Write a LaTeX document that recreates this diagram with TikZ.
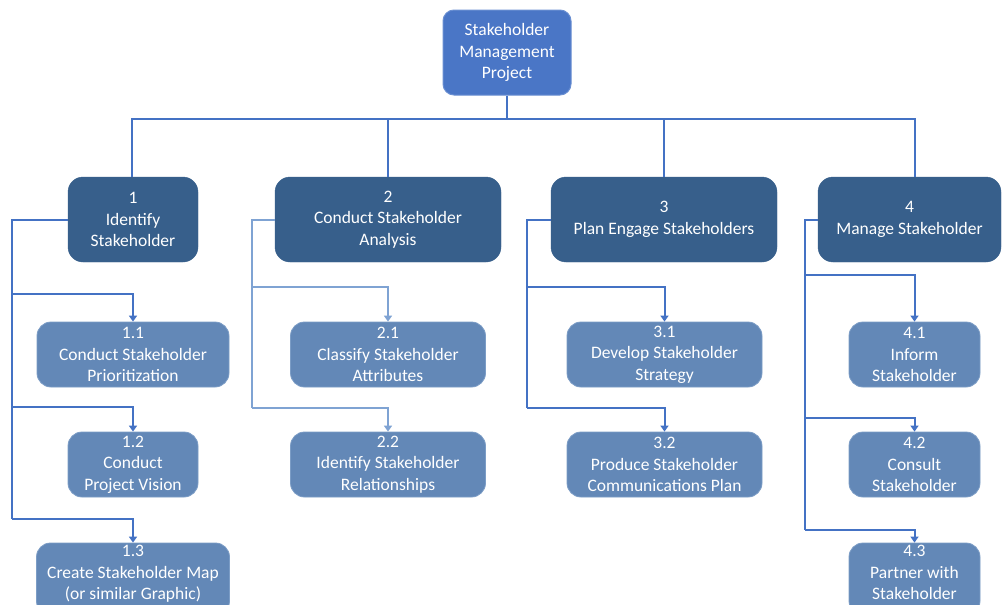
\documentclass[tikz,border=0pt]{standalone}
\usepackage{fontspec}
\setmainfont{Carlito}
\usetikzlibrary{arrows.meta,calc}

\definecolor{rootblue}{HTML}{4A76C6}
\definecolor{rootedge}{HTML}{6A8FD2}
\definecolor{mainblue}{HTML}{375F8B}
\definecolor{subblue}{HTML}{6388B7}
\definecolor{subedge}{HTML}{7C9DC6}
\definecolor{wire}{HTML}{4472C4}
\definecolor{lightwire}{HTML}{7FA3D3}

% three stacked lines, drawn a little higher than the box centre
% (for the boxes that run off the bottom edge)
\newcommand{\liftedlines}[3]{\raisebox{5pt}[\height][\depth]{\begin{tabular}{@{}c@{}}#1\\#2\\#3\end{tabular}}}

\tikzset{
  box/.style={inner sep=0pt, align=center, text=white,
    font=\fontsize{17.5}{21.5}\selectfont},
  rootbox/.style={box, fill=rootblue, draw=rootedge, line width=1pt,
    rounded corners=11pt},
  mainbox/.style={box, fill=mainblue, draw=mainblue, rounded corners=15pt},
  subbox/.style={box, fill=subblue, draw=subedge, line width=0.8pt,
    rounded corners=14pt},
  wireline/.style={draw=wire, line width=2pt},
  lightline/.style={draw=lightwire, line width=2pt},
  tip/.style={-{Triangle[width=8pt,length=6pt]}},
}

\begin{document}
\begin{tikzpicture}[x=1pt,y=-1pt]
\clip (0,0) rectangle (1002,605);
\fill[white] (0,0) rectangle (1002,605);

% root
\node[rootbox, minimum width=128pt, minimum height=85pt] (root) at (507,52.5)
  {Stakeholder\\Management\\Project};

% first level
\node[mainbox, minimum width=130pt, minimum height=85pt] (n1) at (133,219.5)
  {1\\Identify\\Stakeholder};
\node[mainbox, minimum width=226pt, minimum height=85pt] (n2) at (388,219.5)
  {2\\Conduct Stakeholder\\Analysis};
\node[mainbox, minimum width=226pt, minimum height=85pt] (n3) at (664,219.5)
  {3\\Plan Engage Stakeholders};
\node[mainbox, minimum width=183pt, minimum height=85pt] (n4) at (909.5,219.5)
  {4\\Manage Stakeholder};

% second level
\node[subbox, minimum width=192pt, minimum height=65pt] (n11) at (133,354.5)
  {1.1\\Conduct Stakeholder\\Prioritization};
\node[subbox, minimum width=130pt, minimum height=65pt] (n12) at (133,464.5)
  {1.2\\Conduct\\Project Vision};
\node[subbox, minimum width=193pt, minimum height=72pt] (n13) at (133,579)
  {\liftedlines{1.3}{Create Stakeholder Map}{(or similar Graphic)}};

\node[subbox, minimum width=195pt, minimum height=65pt] (n21) at (388,354.5)
  {2.1\\Classify Stakeholder\\Attributes};
\node[subbox, minimum width=195pt, minimum height=65pt] (n22) at (388,464.5)
  {2.2\\Identify Stakeholder\\Relationships};

\node[subbox, minimum width=195pt, minimum height=65pt] (n31) at (664.5,354.5)
  {3.1\\Develop Stakeholder\\Strategy};
\node[subbox, minimum width=195pt, minimum height=65pt] (n32) at (664.5,464.5)
  {3.2\\Produce Stakeholder\\Communications Plan};

\node[subbox, minimum width=131pt, minimum height=65pt] (n41) at (914.5,354.5)
  {4.1\\Inform\\Stakeholder};
\node[subbox, minimum width=131pt, minimum height=65pt] (n42) at (914.5,464.5)
  {4.2\\Consult\\Stakeholder};
\node[subbox, minimum width=131pt, minimum height=72pt] (n43) at (914.5,579)
  {\liftedlines{4.3}{Partner with}{Stakeholder}};

% bus under the root
\coordinate (bus) at (507,119);
\coordinate (d1) at (132,119);
\coordinate (d4) at (915,119);
\draw[wireline] (root.south) -- (bus);
\draw[wireline] (n1.north -| d1) -- (d1) -- (d4) -- (d4 |- n4.north);
\draw[wireline] (n2.north) -- (n2.north |- bus);
\draw[wireline] (n3.north) -- (n3.north |- bus);

% branch 1
\coordinate (a1) at (12,219.5);
\coordinate (j11) at (12,294);
\coordinate (j12) at (12,407);
\coordinate (j13) at (12,519);
\draw[wireline] (n1.west) -- (a1) -- (j13);
\draw[wireline,tip] (j11) -| (n11.north);
\draw[wireline,tip] (j12) -| (n12.north);
\draw[wireline,tip] (j13) -| (n13.north);

% branch 2
\coordinate (a2) at (252,219.5);
\coordinate (j21) at (252,287);
\coordinate (j22) at (252,408);
\draw[lightline] (n2.west) -- (a2) -- (j22);
\draw[lightline,tip] (j21) -| (n21.north);
\draw[lightline,tip] (j22) -| (n22.north);

% branch 3
\coordinate (a3) at (527,219.5);
\coordinate (j31) at (527,287);
\coordinate (j32) at (527,408);
\draw[wireline] (n3.west) -- (a3) -- (j32);
\draw[wireline,tip] (j31) -| (n31.north);
\draw[wireline,tip] (j32) -| (n32.north);

% branch 4
\coordinate (a4) at (805,219.5);
\coordinate (j41) at (805,275);
\coordinate (j42) at (805,418);
\coordinate (j43) at (805,530);
\draw[wireline] (n4.west) -- (a4) -- (j43);
\draw[wireline,tip] (j41) -| (n41.north);
\draw[wireline,tip] (j42) -| (n42.north);
\draw[wireline,tip] (j43) -| (n43.north);
\end{tikzpicture}
\end{document}
